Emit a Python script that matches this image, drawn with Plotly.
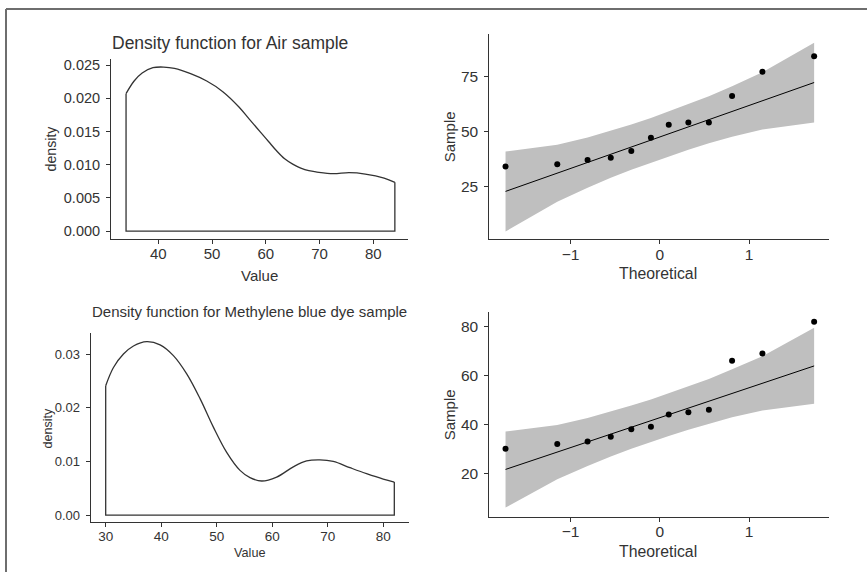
import plotly.graph_objects as go

# ---------------- data ----------------
air_x = [34, 35.5, 37, 39, 41, 43, 46, 49, 52, 55, 57, 59, 60.5, 62, 63.5, 65, 66.5, 68, 69.5,
         72.5, 75.5, 78.5, 82, 84]
air_density = [0.0207, 0.0226, 0.0238, 0.0246, 0.0247, 0.0245, 0.0237, 0.0226, 0.0210, 0.0187,
               0.0168, 0.0149, 0.0135, 0.0121, 0.0109, 0.0101, 0.0095, 0.0091, 0.0089,
               0.00865, 0.0088, 0.0086, 0.0080, 0.00735]

dye_x = [30, 31.4, 33.2, 35, 37.4, 39.8, 42.2, 44.6, 47, 49.4, 51.8, 54.2, 56, 58.1, 60.8,
         63.8, 66.2, 68.6, 71, 74, 77, 80, 82]
dye_density = [0.0241, 0.0275, 0.0300, 0.0315, 0.0323, 0.0317, 0.0297, 0.0263, 0.0217, 0.0164,
               0.0117, 0.00835, 0.0070, 0.00637, 0.0071, 0.0090, 0.0101, 0.0103, 0.0100, 0.00885,
               0.00774, 0.00674, 0.00618]

qq_theoretical = [-1.73, -1.15, -0.81, -0.55, -0.32, -0.10, 0.10, 0.32, 0.55, 0.81, 1.15, 1.73]

air_sample = [34, 35, 37, 38, 41, 47, 53, 54, 54, 66, 77, 84]
air_line_x = [-1.73, 1.73]
air_line_y = [22.7, 72.1]
air_band_lower = [4.5, 18.0, 24.4, 28.9, 32.5, 35.7, 38.7, 41.6, 44.5, 47.5, 50.8, 54.0]
air_band_upper = [40.8, 43.9, 47.2, 50.2, 53.1, 56.0, 59.0, 62.2, 65.9, 70.4, 76.8, 90.2]

dye_sample = [30, 32, 33, 35, 38, 39, 44, 45, 46, 66, 69, 82]
dye_line_x = [-1.73, 1.73]
dye_line_y = [21.6, 63.9]
dye_band_lower = [6.0, 17.6, 23.0, 26.9, 30.0, 32.8, 35.3, 37.8, 40.3, 42.9, 45.7, 48.4]
dye_band_upper = [37.1, 39.8, 42.6, 45.2, 47.7, 50.2, 52.7, 55.5, 58.6, 62.5, 67.9, 79.5]

air_title = "Density function for Air sample"
dye_title = "Density function for Methylene blue dye sample"

# ---------------- figure ----------------
W, H = 867, 572
FONT = "Liberation Sans, Arial, sans-serif"
TXT = "#333333"
AX = "#333333"
BAND = "rgb(191,191,191)"

fig = go.Figure()


def density_traces(xs, ds, xa, ya):
    fig.add_trace(go.Scatter(x=xs, y=ds, mode="lines",
                             line=dict(color="#333333", width=1.3, shape="spline", smoothing=1.0),
                             xaxis=xa, yaxis=ya, hoverinfo="skip"))
    fig.add_trace(go.Scatter(x=[xs[-1], xs[-1], xs[0], xs[0]], y=[ds[-1], 0, 0, ds[0]], mode="lines",
                             line=dict(color="#333333", width=1.3), xaxis=xa, yaxis=ya, hoverinfo="skip"))


def qq_traces(lower, upper, lx, ly, sample, xa, ya):
    fig.add_trace(go.Scatter(x=qq_theoretical, y=lower, mode="lines", line=dict(width=0, color=BAND),
                             xaxis=xa, yaxis=ya, hoverinfo="skip"))
    fig.add_trace(go.Scatter(x=qq_theoretical, y=upper, mode="lines", line=dict(width=0, color=BAND),
                             fill="tonexty", fillcolor=BAND, xaxis=xa, yaxis=ya, hoverinfo="skip"))
    fig.add_trace(go.Scatter(x=lx, y=ly, mode="lines", line=dict(color="black", width=1),
                             xaxis=xa, yaxis=ya))
    fig.add_trace(go.Scatter(x=qq_theoretical, y=sample, mode="markers",
                             marker=dict(color="black", size=6), xaxis=xa, yaxis=ya))


density_traces(air_x, air_density, "x", "y")
qq_traces(air_band_lower, air_band_upper, air_line_x, air_line_y, air_sample, "x2", "y2")
density_traces(dye_x, dye_density, "x3", "y3")
qq_traces(dye_band_lower, dye_band_upper, dye_line_x, dye_line_y, dye_sample, "x4", "y4")


def px_x(a, b):
    return [a / W, b / W]


def px_y(top, bottom):
    return [1 - bottom / H, 1 - top / H]


def axis_common(size, standoff):
    return dict(showline=True, linecolor=AX, linewidth=1, ticks="outside", ticklen=4, tickwidth=1,
                tickcolor=AX, showgrid=False, zeroline=False, tickfont=dict(family=FONT, size=size, color=TXT),
                ticklabelstandoff=standoff)


fig.update_layout(
    width=W, height=H, margin=dict(l=0, r=0, t=0, b=0),
    paper_bgcolor="white", plot_bgcolor="white", showlegend=False,
    xaxis=dict(domain=px_x(111, 408.3), range=[31.2, 86.5], tickvals=[40, 50, 60, 70, 80],
               anchor="y", **axis_common(15, -3)),
    yaxis=dict(domain=px_y(57.3, 238), range=[-0.0012, 0.0259],
               tickvals=[0, 0.005, 0.01, 0.015, 0.02, 0.025], tickformat=".3f", anchor="x",
               **axis_common(14.5, 3)),
    xaxis2=dict(domain=px_x(489.3, 829.3), range=[-1.912, 1.90], tickvals=[-1, 0, 1],
                anchor="y2", **axis_common(15.5, -3)),
    yaxis2=dict(domain=px_y(31.7, 238.3), range=[0.9, 94.3], tickvals=[25, 50, 75],
                anchor="x2", **axis_common(15.5, 3)),
    xaxis3=dict(domain=px_x(90.7, 409.3), range=[27.3, 84.7], tickvals=[30, 40, 50, 60, 70, 80],
                anchor="y3", **axis_common(13.5, -3)),
    yaxis3=dict(domain=px_y(331.7, 522.3), range=[-0.00135, 0.0340],
                tickvals=[0, 0.01, 0.02, 0.03], tickformat=".2f", anchor="x3", **axis_common(13, 3)),
    xaxis4=dict(domain=px_x(489.3, 829.3), range=[-1.912, 1.90], tickvals=[-1, 0, 1],
                anchor="y4", **axis_common(15.5, -3)),
    yaxis4=dict(domain=px_y(310.7, 516.7), range=[2.2, 86.1], tickvals=[20, 40, 60, 80],
                anchor="x4", **axis_common(15.5, 3)),
)


def ann(text, x, y, size, angle=0, xanchor="center"):
    fig.add_annotation(text=text, x=x / W, y=1 - y / H, xref="paper", yref="paper", showarrow=False,
                       xanchor=xanchor, yanchor="middle", textangle=angle,
                       font=dict(family=FONT, size=size, color=TXT))


ann(air_title, 110, 41, 17.5, xanchor="left")
ann(dye_title, 89.5, 310.5, 15, xanchor="left")
ann("density", 51, 147, 14.2, angle=-90)
ann("Value", 259, 274, 15)
ann("Sample", 449.7, 135, 15, angle=-90)
ann("Theoretical", 658.3, 272, 15.8)
ann("density", 48, 428, 12.6, angle=-90)
ann("Value", 249.5, 553, 12.7)
ann("Sample", 449.7, 414, 15, angle=-90)
ann("Theoretical", 658.3, 551, 15.8)

# outer frame (top and left edges)
fig.add_shape(type="line", xref="paper", yref="paper", x0=6 / W, x1=1, y0=1 - 7 / H, y1=1 - 7 / H,
              line=dict(color="#6e6e6e", width=2))
fig.add_shape(type="line", xref="paper", yref="paper", x0=6 / W, x1=6 / W, y0=0, y1=1 - 7 / H,
              line=dict(color="#6e6e6e", width=2))

fig.write_html("out.html")
